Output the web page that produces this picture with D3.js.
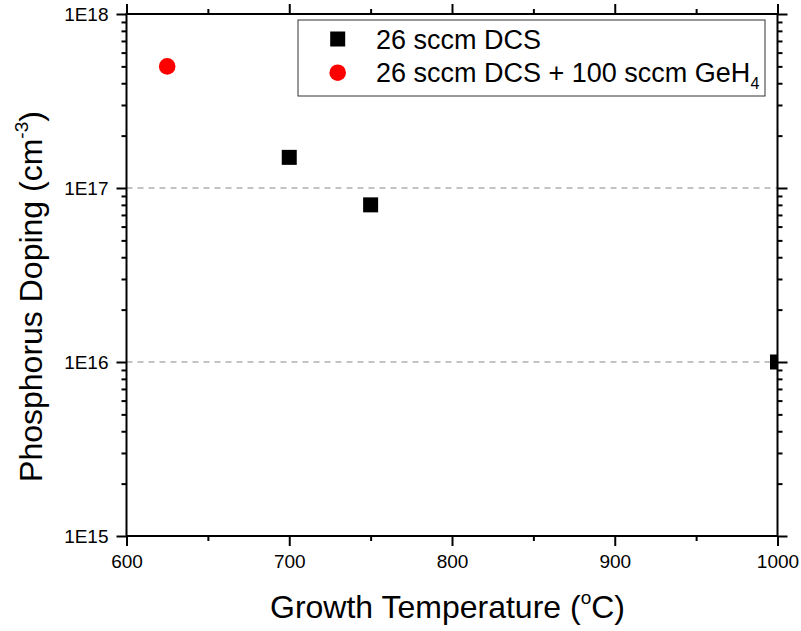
<!DOCTYPE html>
<html><head><meta charset="utf-8">
<script src="https://cdn.jsdelivr.net/npm/d3@7"></script>
<style>body{margin:0;background:#fff}svg{display:block}text{font-family:Arial,"Liberation Sans",sans-serif;fill:#000}</style>
</head><body>
<svg id="c" width="801" height="631"></svg>
<script>
// Data
const dcsTemps = [700, 750, 1000];
const dcsDoping = [1.5e17, 8e16, 1e16];
const geTemps = [625];
const geDoping = [5e17];
const xTicks = [600, 700, 800, 900, 1000];
const xMinorTicks = [650, 750, 850, 950];
const yTicks = [1e15, 1e16, 1e17, 1e18];
const yTickLabels = ["1E15", "1E16", "1E17", "1E18"];
const gridValues = [1e16, 1e17];
const legendLabels = ["26 sccm DCS", "26 sccm DCS + 100 sccm GeH"];

const L = 126.5, R = 777.5, T = 14, B = 536;
const svg = d3.select("#c");
const x = d3.scaleLinear().domain([600, 1000]).range([L, R]);
const y = d3.scaleLog().domain([1e15, 1e18]).range([B, T]);

const yMinor = [];
[1e15, 1e16, 1e17].forEach(d => { for (let k = 2; k <= 9; k++) yMinor.push(d * k); });

// gridlines
svg.append("g").selectAll("line").data(gridValues).join("line")
  .attr("x1", L).attr("x2", R).attr("y1", d => y(d)).attr("y2", d => y(d))
  .attr("stroke", "#b0b0b0").attr("stroke-width", 1.3).attr("stroke-dasharray", "6,5");

// clip
svg.append("clipPath").attr("id", "clip").append("rect")
  .attr("x", L).attr("y", T).attr("width", R - L).attr("height", B - T);
const pts = svg.append("g").attr("clip-path", "url(#clip)");
const S = 15;
pts.selectAll("rect").data(dcsTemps.map((t, i) => [t, dcsDoping[i]])).join("rect")
  .attr("x", d => x(d[0]) - S / 2).attr("y", d => y(d[1]) - S / 2)
  .attr("width", S).attr("height", S).attr("fill", "#000");
pts.selectAll("circle").data(geTemps.map((t, i) => [t, geDoping[i]])).join("circle")
  .attr("cx", d => x(d[0])).attr("cy", d => y(d[1])).attr("r", 8.3).attr("fill", "#ff0000");

// axes
function styleAxis(g) {
  g.select(".domain").remove();
  g.selectAll(".tick line").attr("stroke", "#000").attr("stroke-width", 2);
  g.selectAll("text").style("font-size", "19px");
}
const bottom = svg.append("g").attr("transform", `translate(0,${B})`)
  .call(d3.axisBottom(x).tickValues(xTicks).tickSize(10).tickPadding(9).tickFormat(d3.format("d")));
styleAxis(bottom);
svg.append("g").attr("transform", `translate(0,${B})`)
  .call(d3.axisBottom(x).tickValues(xMinorTicks).tickSize(5).tickFormat("")).call(styleAxis);
svg.append("g").attr("transform", `translate(0,${T})`)
  .call(d3.axisTop(x).tickValues(xTicks).tickSize(10).tickFormat("")).call(styleAxis);
svg.append("g").attr("transform", `translate(0,${T})`)
  .call(d3.axisTop(x).tickValues(xMinorTicks).tickSize(5).tickFormat("")).call(styleAxis);

const left = svg.append("g").attr("transform", `translate(${L},0)`)
  .call(d3.axisLeft(y).tickValues(yTicks).tickSize(10).tickPadding(8).tickFormat((d, i) => yTickLabels[i]));
styleAxis(left);
svg.append("g").attr("transform", `translate(${L},0)`)
  .call(d3.axisLeft(y).tickValues(yMinor).tickSize(5).tickFormat("")).call(styleAxis);
svg.append("g").attr("transform", `translate(${R},0)`)
  .call(d3.axisRight(y).tickValues(yTicks).tickSize(10).tickFormat("")).call(styleAxis);
svg.append("g").attr("transform", `translate(${R},0)`)
  .call(d3.axisRight(y).tickValues(yMinor).tickSize(5).tickFormat("")).call(styleAxis);

// frame
svg.append("rect").attr("x", L).attr("y", T).attr("width", R - L).attr("height", B - T)
  .attr("fill", "none").attr("stroke", "#000").attr("stroke-width", 2);

// axis titles
const xt = svg.append("text").attr("x", 447.5).attr("y", 618)
  .attr("text-anchor", "middle").style("font-size", "32px");
xt.append("tspan").text("Growth Temperature (");
xt.append("tspan").text("o").style("font-size", "19px").attr("dy", -14);
xt.append("tspan").text("C)").attr("dy", 14);

const yt = svg.append("text").attr("transform", `translate(42,296.5) rotate(-90)`)
  .attr("text-anchor", "middle").style("font-size", "32px");
yt.append("tspan").text("Phosphorus Doping (cm");
yt.append("tspan").text("-3").style("font-size", "19px").attr("dy", -14);
yt.append("tspan").text(")").attr("dy", 14);

// legend
const lg = svg.append("g");
lg.append("rect").attr("x", 298).attr("y", 20).attr("width", 467).attr("height", 76)
  .attr("fill", "#fff").attr("stroke", "#333").attr("stroke-width", 1);
lg.append("rect").attr("x", 337.7 - S / 2).attr("y", 39 - S / 2).attr("width", S).attr("height", S).attr("fill", "#000");
lg.append("circle").attr("cx", 337.7).attr("cy", 72.7).attr("r", 8.3).attr("fill", "#ff0000");
lg.append("text").attr("x", 376).attr("y", 48.5).style("font-size", "27px").text(legendLabels[0]);
const t2 = lg.append("text").attr("x", 376).attr("y", 82).style("font-size", "27px");
t2.append("tspan").text(legendLabels[1]);
t2.append("tspan").text("4").style("font-size", "16px").attr("dy", 7);
</script>
</body></html>
